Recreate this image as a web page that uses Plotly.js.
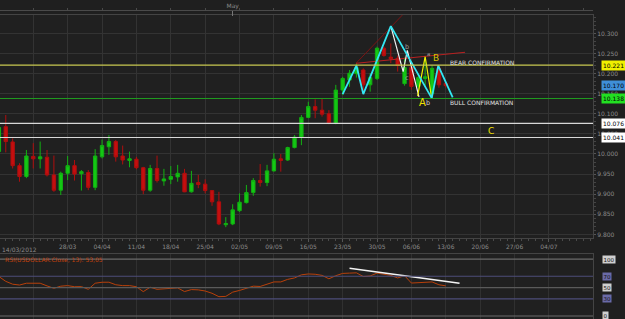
<!DOCTYPE html>
<html><head><meta charset="utf-8">
<script src="https://cdn.plot.ly/plotly-3.0.1.min.js"></script>
<style>html,body{margin:0;padding:0;background:#1e1e1e;}#chart{width:625px;height:319px;}</style>
</head><body><div id="chart"></div>
<script>
// ---- data (USDOLLAR daily, trading-day index) ----
const opens  = [10.006,10.068,10.030,9.971,9.944,9.994,9.988,9.992,9.948,9.910,9.952,9.971,9.951,9.954,9.917,9.993,10.018,10.031,9.995,9.984,9.987,9.966,9.910,9.964,9.933,9.937,9.943,9.952,9.906,9.929,9.925,9.909,9.881,9.824,9.826,9.859,9.879,9.904,9.934,9.929,9.958,9.988,9.985,10.016,10.042,10.091,10.118,10.109,10.100,10.076,10.159,10.184,10.200,10.209,10.172,10.188,10.263,10.241,10.238,10.175,10.215,10.168,10.188,10.150,10.213,10.176];
const highs  = [10.075,10.097,10.039,9.977,10.010,10.027,10.031,10.010,9.996,9.956,9.995,9.985,9.960,9.960,10.012,10.036,10.047,10.035,10.021,10.006,9.993,9.968,9.973,9.996,9.963,9.970,9.973,9.963,9.958,9.948,9.937,9.910,9.906,9.843,9.875,9.902,9.923,9.940,9.975,9.973,10.002,10.000,10.018,10.047,10.097,10.130,10.136,10.139,10.109,10.172,10.192,10.209,10.225,10.213,10.201,10.267,10.267,10.275,10.245,10.240,10.220,10.200,10.240,10.220,10.220,10.180];
const lows   = [10.000,10.004,9.964,9.931,9.940,9.964,9.964,9.944,9.906,9.898,9.935,9.934,9.909,9.910,9.910,9.989,9.998,9.981,9.974,9.967,9.962,9.900,9.906,9.929,9.921,9.925,9.931,9.905,9.904,9.915,9.902,9.871,9.823,9.818,9.823,9.856,9.877,9.896,9.919,9.920,9.956,9.956,9.983,10.014,10.022,10.089,10.089,10.093,10.074,10.074,10.147,10.167,10.190,10.155,10.155,10.184,10.242,10.226,10.205,10.170,10.160,10.160,10.170,10.140,10.165,10.165];
const closes = [10.066,10.031,9.971,9.944,9.995,9.988,9.993,9.948,9.910,9.952,9.971,9.950,9.956,9.917,9.995,10.021,10.031,9.993,9.985,9.988,9.966,9.910,9.964,9.934,9.938,9.944,9.952,9.906,9.927,9.924,9.909,9.881,9.826,9.827,9.861,9.880,9.904,9.934,9.929,9.958,9.987,9.984,10.016,10.042,10.091,10.118,10.109,10.099,10.076,10.159,10.188,10.201,10.215,10.172,10.190,10.263,10.245,10.237,10.220,10.215,10.168,10.190,10.192,10.213,10.172,10.170];
const rsi    = [69.5,61,56,54.5,57.7,57.5,57.7,53,48.8,52.5,53.5,51.5,51.7,47,57.7,59.4,59.5,55,53.5,53.5,51.5,42.9,50.6,47,47.5,48.5,49.5,43,46.5,46,44,40,34,34.5,42,45,48.5,52.5,52,56.5,60,60,64.5,67,72.5,74,73.5,71.5,65.5,71,75,75.5,76,69.5,70.5,75.5,73,71.5,67,71,58,58.5,59.5,60,55,53.05];

// weekly tick labels (Wednesdays) at trading-day positions
const tickPos    = [0,5,10,15,20,25,30,35,40,45,50,55,60,65,70,75,80];
const tickLabels = ['14/03/2012','21/03','28/03','04/04','11/04','18/04','25/04','02/05','09/05','16/05','23/05','30/05','06/06','13/06','20/06','27/06','04/07'];
const monthPos = [34], monthLabels = ['May'];

// horizontal price levels and their label colours
const levels      = [10.221, 10.138, 10.076, 10.041];
const levelLine   = ['#c8c850', '#1f9a1f', '#d8d8d8', '#d8d8d8'];
const levelBg     = ['#f0f000', '#22e022', '#ffffff', '#ffffff'];
const lastPrice   = 10.170;

// RSI reference levels
const rsiLevels = [100, 70, 50, 30, 0];
const rsiLineCol = ['#6a6a6a', '#4c4c78', '#5a5a5a', '#4c4c78', '#6a6a6a'];
const rsiBg      = ['#cfcfcf', '#6a6aa8', '#cfcfcf', '#6a6aa8', '#cfcfcf'];
const rsiTrendX = [51, 67], rsiTrendY = [84, 57.7];

// drawn pattern lines (day index, price)
const cyanX = [50, 52, 53, 57, 62.95, 63.9, 66], cyanY = [10.149, 10.220, 10.149, 10.318, 10.139, 10.220, 10.141];
const whiteX = [57, 58.8, 59.4, 61.1], whiteY = [10.318, 10.205, 10.258, 10.142];
const yellowX = [60.9, 62.0, 62.95], yellowY = [10.144, 10.242, 10.139];
const redUpX = [51.94, 59.6], redUpY = [10.2256, 10.362];
const redFlatX = [51.94, 67.8], redFlatY = [10.2256, 10.253];

const days = opens.map((_, i) => i);
const fontF = 'DejaVu Sans, Arial, sans-serif';

const traces = [
  {type:'candlestick', x:days, open:opens, high:highs, low:lows, close:closes, xaxis:'x', yaxis:'y',
   increasing:{line:{color:'#12b012', width:1}, fillcolor:'#14c814'},
   decreasing:{line:{color:'#b00e0e', width:1}, fillcolor:'#c40f0f'},
   whiskerwidth:0, hoverinfo:'skip', showlegend:false},
  {type:'scatter', mode:'lines', x:redUpX, y:redUpY, line:{color:'#7a1414', width:1}, hoverinfo:'skip', showlegend:false},
  {type:'scatter', mode:'lines', x:redFlatX, y:redFlatY, line:{color:'#b82020', width:1}, hoverinfo:'skip', showlegend:false},
  {type:'scatter', mode:'lines', x:whiteX, y:whiteY, line:{color:'#f0f0f0', width:1.2}, hoverinfo:'skip', showlegend:false},
  {type:'scatter', mode:'lines', x:yellowX, y:yellowY, line:{color:'#f0f000', width:1.2}, hoverinfo:'skip', showlegend:false},
  {type:'scatter', mode:'lines', x:cyanX, y:cyanY, line:{color:'#33e6f2', width:1.8}, hoverinfo:'skip', showlegend:false},
  {type:'scatter', mode:'lines', x:days, y:rsi, xaxis:'x2', yaxis:'y2', line:{color:'#b8400a', width:1}, hoverinfo:'skip', showlegend:false},
  {type:'scatter', mode:'lines', x:rsiTrendX, y:rsiTrendY, xaxis:'x2', yaxis:'y2', line:{color:'#f4f4f4', width:1.5}, hoverinfo:'skip', showlegend:false},
  {type:'scatter', mode:'markers', x:monthPos, y:[null], xaxis:'x3', yaxis:'y', marker:{opacity:0}, hoverinfo:'skip', showlegend:false}
];

const xr = [0.16, 86.41];
const tickText = tickLabels.map((t, i) => i < 2 ? '' : t);
const tf = {family:fontF, size:6, color:'#8a8a8a'};

const shapes = [];
levels.forEach((v, i) => shapes.push({type:'line', xref:'x domain', yref:'y', x0:0, x1:1, y0:v, y1:v, line:{color:levelLine[i], width:1.2}}));
rsiLevels.forEach((v, i) => shapes.push({type:'line', xref:'x2 domain', yref:'y2', x0:0, x1:1, y0:v, y1:v, line:{color:rsiLineCol[i], width:1.2}}));

const ann = [];
levels.forEach((v, i) => ann.push({xref:'paper', yref:'y', x:0.961, y:v, xanchor:'left', yanchor:'middle', text:v.toFixed(3), showarrow:false,
  font:{family:fontF, size:6, color:'#000'}, bgcolor:levelBg[i], borderpad:1}));
ann.push({xref:'paper', yref:'y', x:0.961, y:lastPrice, xanchor:'left', yanchor:'middle', text:lastPrice.toFixed(3), showarrow:false,
  font:{family:fontF, size:6, color:'#000'}, bgcolor:'#3f8fd8', borderpad:1});
rsiLevels.forEach((v, i) => ann.push({xref:'paper', yref:'y2', x:0.963, y:v, xanchor:'left', yanchor:'middle', text:String(v), showarrow:false,
  font:{family:fontF, size:5.5, color:'#111'}, bgcolor:rsiBg[i], borderpad:0.5}));
ann.push({xref:'paper', yref:'paper', x:0, y:1-249/319, xanchor:'left', yanchor:'middle', text:tickLabels[0], showarrow:false, font:tf});
ann.push({xref:'paper', yref:'paper', x:0.005, y:1-259/319, xanchor:'left', yanchor:'middle', text:'RSI(USDOLLAR.Close, 13): ' + rsi[rsi.length-1].toFixed(2).replace('.', ','), showarrow:false,
  font:{family:fontF, size:6, color:'#c0400c'}});
const txt = (x, y, t, c, s, xa) => ann.push({xref:'x', yref:'y', x:x, y:y, text:t, showarrow:false, xanchor:xa||'center', yanchor:'middle', font:{family:fontF, size:s, color:c}});
txt(65.3, 10.228, 'BEAR CONFIRMATION', '#e0e0e0', 6, 'left');
txt(65.3, 10.128, 'BULL CONFIRMATION', '#e0e0e0', 6, 'left');
txt(61.6, 10.127, 'A', '#f0e000', 10);
txt(62.4, 10.128, 'b', '#cfcfcf', 6.5);
txt(63.6, 10.238, 'B', '#d8c400', 9);
txt(71.6, 10.057, 'C', '#f0e000', 9);
txt(59.4, 10.265, 'b', '#9a9a9a', 6.5);
txt(59.3, 10.189, 'c', '#9a9a9a', 6.5);
txt(62.5, 10.250, 'a', '#9a9a9a', 5.5);

const layout = {
  width:625, height:319, margin:{l:0, r:0, t:0, b:0},
  paper_bgcolor:'#1f1f1f', plot_bgcolor:'#202020',
  showlegend:false, dragmode:false,
  xaxis:{domain:[0, 0.9488], range:xr, anchor:'y', rangeslider:{visible:false},
    tickmode:'array', tickvals:tickPos, ticktext:tickText, tickfont:tf,
    showgrid:true, gridcolor:'#333333', gridwidth:1, zeroline:false,
    ticks:'outside', ticklen:3, tickcolor:'#555',
    minor:{tickmode:'linear', tick0:0, dtick:1, ticklen:2, tickcolor:'#4a4a4a', showgrid:false},
    showline:true, linecolor:'#444', mirror:true},
  yaxis:{domain:[0.253, 0.953], range:[9.7903, 10.3458], anchor:'x', side:'right',
    tick0:9.8, dtick:0.05, tickformat:'.3f', tickfont:tf,
    showgrid:true, gridcolor:'#333333', zeroline:false,
    ticks:'outside', ticklen:2, tickcolor:'#555',
    minor:{dtick:0.01, ticklen:2, tickcolor:'#444', showgrid:false},
    showline:true, linecolor:'#444', mirror:true},
  xaxis2:{domain:[0, 0.9488], range:xr, anchor:'y2', tickmode:'array', tickvals:tickPos, showticklabels:false,
    showgrid:true, gridcolor:'#303030', zeroline:false, ticks:'', showline:true, linecolor:'#444', mirror:true},
  yaxis2:{domain:[0, 0.204], range:[-5.3, 109.3], anchor:'x2', side:'right', showticklabels:false,
    showgrid:false, zeroline:false, ticks:'', showline:true, linecolor:'#444', mirror:true},
  xaxis3:{overlaying:'x', anchor:'free', position:0.968, side:'top', range:xr,
    tickmode:'array', tickvals:monthPos, ticktext:monthLabels, tickfont:{family:fontF, size:6, color:'#8a8a8a'},
    ticks:'inside', ticklen:5, tickcolor:'#777', showgrid:false, zeroline:false,
    showline:true, linecolor:'#4a4a4a',
    minor:{tickmode:'linear', tick0:0, dtick:5, ticklen:2, tickcolor:'#4a4a4a'}},
  shapes:shapes, annotations:ann
};

Plotly.newPlot('chart', traces, layout, {staticPlot:true, displayModeBar:false});
</script></body></html>
